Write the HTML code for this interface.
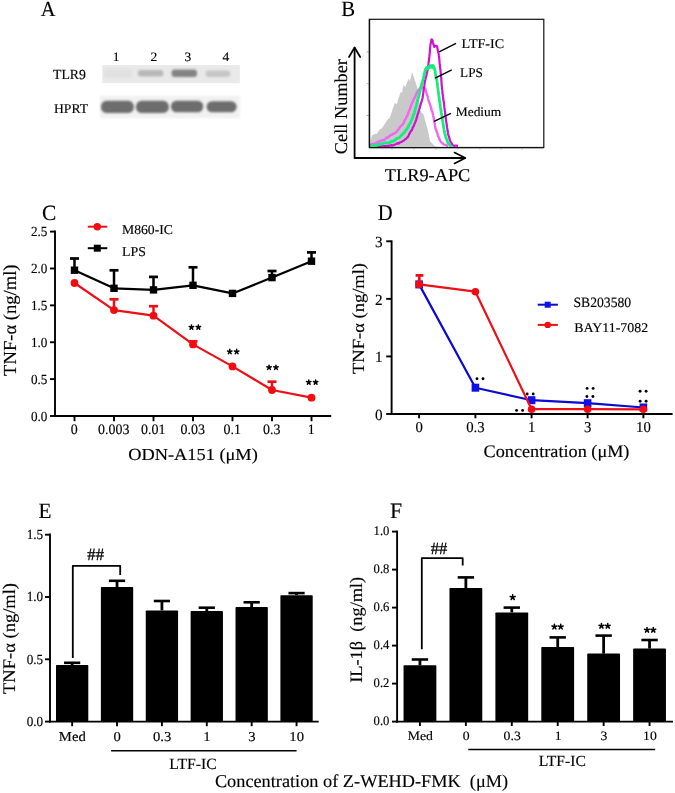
<!DOCTYPE html>
<html><head><meta charset="utf-8"><style>
html,body{margin:0;padding:0;background:#fff;}
svg{display:block;filter:blur(0.35px);}
</style></head><body>
<svg width="675" height="793" viewBox="0 0 675 793" font-family="Liberation Serif" fill="#000" text-rendering="geometricPrecision">
<rect width="675" height="793" fill="#fff"/>
<text transform="translate(40.76,16.35) scale(0.956,1)" font-size="21.38" text-anchor="start" stroke="#000" stroke-width="0.14">A</text>
<text transform="translate(116.16,61.11) scale(1.054,1)" font-size="12.84" text-anchor="middle" stroke="#000" stroke-width="0.14">1</text>
<text transform="translate(153.76,61.11) scale(1.054,1)" font-size="12.84" text-anchor="middle" stroke="#000" stroke-width="0.14">2</text>
<text transform="translate(187.96,61.11) scale(1.054,1)" font-size="12.84" text-anchor="middle" stroke="#000" stroke-width="0.14">3</text>
<text transform="translate(225.76,61.11) scale(1.054,1)" font-size="12.84" text-anchor="middle" stroke="#000" stroke-width="0.14">4</text>
<text transform="translate(53.01,78.95) scale(0.994,1)" font-size="13.85" text-anchor="start" stroke="#000" stroke-width="0.14">TLR9</text>
<text transform="translate(54.01,112.85) scale(1.017,1)" font-size="13.40" text-anchor="start" stroke="#000" stroke-width="0.14">HPRT</text>
<defs><filter id="bl1" x="-20%" y="-50%" width="140%" height="200%"><feGaussianBlur stdDeviation="1.2"/></filter><filter id="bl2" x="-20%" y="-50%" width="140%" height="200%"><feGaussianBlur stdDeviation="0.8"/></filter><filter id="bl3"><feGaussianBlur stdDeviation="0.6"/></filter></defs>
<rect x="102.30" y="65.10" width="137.50" height="18.10" fill="#e9e9e9" />
<g filter="url(#bl1)">
<rect x="104" y="69" width="28" height="9" rx="3" fill="#e1e1e1"/>
<rect x="137.8" y="70" width="25.6" height="6.6" rx="3" fill="#b8b8b8"/>
<rect x="171.6" y="69.5" width="25.4" height="7.4" rx="3" fill="#838383"/>
<rect x="205.6" y="70.4" width="24.6" height="6.6" rx="3" fill="#c6c6c6"/>
</g>
<rect x="100" y="96" width="140" height="22" fill="#f1f1f1" filter="url(#bl1)"/>
<g filter="url(#bl2)">
<rect x="101" y="100.8" width="32.8" height="12.1" rx="5.5" fill="#6d6d6d"/>
<rect x="136" y="100.8" width="32.8" height="12.1" rx="5.5" fill="#6d6d6d"/>
<rect x="171" y="100.7" width="32.2" height="11.6" rx="5.5" fill="#6d6d6d"/>
<rect x="206.6" y="101.2" width="30.0" height="11.1" rx="5.5" fill="#6d6d6d"/>
</g>
<text transform="translate(341.26,16.46) scale(0.955,1)" font-size="21.77" text-anchor="start" stroke="#000" stroke-width="0.14">B</text>
<rect x="369.4" y="19.3" width="174.4" height="128.2" fill="none" stroke="#111" stroke-width="1.2"/>
<line x1="366.50" y1="51.90" x2="369.40" y2="51.90" stroke="#999" stroke-width="0.8" />
<line x1="366.50" y1="83.70" x2="369.40" y2="83.70" stroke="#999" stroke-width="0.8" />
<line x1="366.50" y1="115.50" x2="369.40" y2="115.50" stroke="#999" stroke-width="0.8" />
<line x1="392.00" y1="147.50" x2="392.00" y2="150.00" stroke="#bbb" stroke-width="0.7" />
<line x1="414.00" y1="147.50" x2="414.00" y2="150.00" stroke="#bbb" stroke-width="0.7" />
<line x1="436.00" y1="147.50" x2="436.00" y2="150.00" stroke="#bbb" stroke-width="0.7" />
<line x1="458.00" y1="147.50" x2="458.00" y2="150.00" stroke="#bbb" stroke-width="0.7" />
<line x1="480.00" y1="147.50" x2="480.00" y2="150.00" stroke="#bbb" stroke-width="0.7" />
<line x1="501.00" y1="147.50" x2="501.00" y2="150.00" stroke="#bbb" stroke-width="0.7" />
<line x1="522.00" y1="147.50" x2="522.00" y2="150.00" stroke="#bbb" stroke-width="0.7" />
<path d="M370.0,147.4 L370.1,146.3 L370.2,145.0 L370.3,143.7 L370.3,143.4 L370.4,141.5 L370.5,141.1 L370.6,140.0 L371.0,138.8 L371.4,137.3 L371.7,137.0 L372.1,135.3 L372.5,134.9 L373.5,134.7 L374.5,134.0 L375.5,133.9 L376.5,134.3 L377.2,133.2 L377.9,132.8 L378.6,130.8 L379.3,130.3 L380.1,129.1 L381.0,128.8 L381.9,128.4 L382.7,126.9 L383.3,126.2 L383.9,125.1 L384.4,125.0 L385.0,122.9 L385.6,123.2 L386.2,121.8 L386.9,120.7 L387.6,119.7 L388.2,118.9 L388.9,118.4 L389.6,117.9 L390.0,117.4 L390.3,115.6 L390.7,115.2 L391.1,114.3 L391.4,113.0 L391.8,112.2 L392.1,111.3 L392.4,109.6 L392.8,108.6 L393.1,107.7 L393.4,107.4 L393.7,106.0 L394.1,104.9 L394.4,104.2 L394.7,103.1 L395.8,103.6 L396.9,104.2 L397.1,102.9 L397.4,102.7 L397.6,101.6 L397.9,100.0 L398.1,99.4 L398.4,98.4 L398.6,97.4 L399.0,97.0 L399.4,95.9 L399.8,94.3 L400.1,94.3 L400.5,92.2 L400.9,91.8 L402.0,92.9 L402.2,91.7 L402.4,91.1 L402.6,89.2 L402.9,88.6 L403.1,86.9 L403.3,86.8 L403.5,85.8 L403.7,84.4 L404.3,85.4 L404.8,86.8 L405.4,87.2 L405.8,85.9 L406.1,85.3 L406.5,84.1 L406.9,83.1 L407.2,81.8 L407.6,81.3 L407.9,80.4 L408.3,78.7 L409.1,79.8 L410.0,81.0 L410.2,80.2 L410.4,78.4 L410.7,78.2 L410.9,77.2 L411.1,76.6 L411.3,75.4 L411.6,73.6 L411.8,72.8 L412.0,71.9 L412.3,73.2 L412.7,73.3 L413.0,75.0 L413.3,75.6 L413.7,76.6 L414.0,78.2 L414.4,78.6 L414.7,80.6 L415.1,80.8 L415.5,82.0 L415.8,83.2 L416.2,84.4 L416.5,85.9 L416.9,85.9 L417.2,87.4 L417.6,88.5 L417.9,89.5 L418.0,91.1 L418.1,92.0 L418.2,93.2 L418.3,93.4 L418.4,94.6 L418.6,95.6 L418.7,97.4 L418.8,98.5 L418.9,98.5 L419.0,100.0 L419.1,100.5 L419.2,101.6 L419.3,102.6 L419.4,104.0 L419.5,105.1 L419.6,105.7 L419.7,106.3 L419.8,107.9 L419.9,108.8 L420.0,110.0 L420.7,111.0 L421.4,112.4 L422.1,112.9 L422.8,113.5 L423.5,114.4 L423.8,115.5 L424.0,116.6 L424.3,116.7 L424.6,118.8 L424.9,119.6 L425.1,120.7 L425.4,121.6 L425.7,122.0 L425.9,123.0 L426.2,124.1 L426.4,124.5 L426.7,126.3 L426.9,126.5 L427.2,127.4 L427.4,128.6 L427.7,129.6 L427.9,130.8 L428.2,131.4 L428.4,133.0 L428.6,133.4 L428.8,134.7 L429.0,135.7 L429.2,137.2 L429.5,137.8 L429.7,140.1 L429.9,140.9 L430.1,141.8 L430.9,142.0 L431.7,142.9 L432.5,143.7 L433.3,144.4 L434.1,145.3 L435.1,146.0 L436.2,146.7 L437.2,147.4 Z" fill="#c9c9c9"/>
<polyline points="370.0,146.0 371.4,144.5 372.5,143.6 373.7,144.1 374.8,143.9 375.9,142.9 377.0,142.5 378.2,141.6 379.3,141.7 380.4,140.8 381.6,140.6 382.7,140.0 383.9,140.3 385.0,139.4 385.9,138.3 386.8,137.5 387.8,137.9 388.7,136.7 389.6,136.0 390.7,135.0 391.9,134.9 393.0,133.7 394.1,133.7 395.0,132.8 395.9,132.5 396.8,131.4 397.7,130.3 398.6,129.2 399.4,128.0 400.1,127.1 400.9,126.0 401.7,125.7 402.4,124.5 403.2,123.5 403.8,122.7 404.3,121.0 404.9,119.8 405.5,119.3 406.0,118.4 406.6,116.7 407.1,116.0 407.6,114.8 408.1,113.7 408.5,112.5 409.0,110.7 409.5,109.9 410.0,108.8 410.4,107.5 410.9,106.0 411.3,104.8 411.7,104.0 412.1,102.8 412.5,102.2 413.0,101.4 413.4,99.7 414.0,98.5 414.5,98.0 415.1,96.9 415.7,95.7 416.2,93.9 416.8,92.9 417.5,91.4 418.3,90.3 419.0,89.5 420.1,88.2 421.3,87.6 423.0,87.5 424.1,87.8 425.3,88.8 425.6,90.1 425.9,91.5 426.3,92.5 426.6,93.2 426.9,94.5 427.2,95.8 427.6,96.1 427.9,97.7 428.2,99.0 428.6,100.4 428.9,101.3 429.2,102.4 429.6,103.2 429.9,103.9 430.3,105.7 430.6,106.5 431.0,107.5 431.3,109.2 431.7,110.6 432.1,111.0 432.4,112.2 432.8,113.5 433.0,115.2 433.2,116.1 433.5,116.7 433.7,117.8 433.9,119.0 434.1,120.6 434.3,122.3 434.5,123.3 434.8,123.7 435.0,125.7 435.2,127.1 435.4,127.7 435.8,129.1 436.2,129.9 436.5,131.3 436.9,131.9 437.3,133.0 437.7,134.7 438.1,136.3 438.6,136.9 439.0,137.8 439.4,139.4 439.9,139.8 440.3,140.9 441.1,142.2 441.9,143.0 442.6,143.2 443.4,144.4 444.6,144.6 445.8,145.1 447.0,145.8 448.2,146.2" fill="none" stroke="#f068f0" stroke-width="2.4" stroke-linejoin="round" />
<polyline points="370.0,146.8 371.2,146.8 372.3,146.7 373.5,146.7 374.6,146.6 375.8,146.6 376.9,146.5 378.1,146.5 379.2,146.4 380.4,146.4 381.5,146.3 382.7,146.3 383.8,146.2 385.0,146.2 386.1,146.1 387.3,145.9 388.4,145.8 389.6,145.6 390.7,145.5 391.8,145.1 393.0,145.3 394.1,145.1 395.2,144.3 396.4,144.0 397.5,143.2 398.6,143.6 399.7,142.5 400.9,142.1 402.0,141.7 402.9,141.0 403.9,140.6 404.9,139.3 405.8,139.1 406.8,137.9 407.7,137.1 408.3,136.1 408.8,135.2 409.4,133.6 409.9,133.1 410.5,131.8 411.1,130.6 411.6,130.5 412.2,129.2 412.7,127.7 413.2,126.9 413.7,126.1 414.2,124.7 414.7,123.4 415.2,122.4 415.7,121.3 416.0,120.2 416.4,119.3 416.7,117.4 417.1,116.8 417.4,115.3 417.7,114.2 418.1,113.6 418.4,112.2 418.8,111.1 419.1,109.9 419.4,109.0 419.7,108.1 420.1,106.4 420.4,105.4 420.7,104.2 421.0,103.0 421.4,101.9 421.8,101.0 422.1,99.6 422.5,98.6 422.7,97.4 422.8,96.1 423.0,95.4 423.1,93.9 423.3,92.9 423.4,91.7 423.6,90.0 423.8,88.6 424.0,87.8 424.2,87.2 424.4,85.9 424.5,84.0 424.7,82.9 424.9,82.2 425.1,80.6 425.3,80.0 425.6,78.6 425.8,77.3 426.1,76.9 426.3,75.9 426.6,74.9 426.8,73.0 427.1,72.5 427.3,71.3 427.6,70.0 427.8,68.5 427.9,68.2 428.1,67.2 428.2,65.3 428.4,65.0 428.5,63.2 428.6,62.2 428.8,61.7 428.9,60.4 429.1,58.5 429.2,57.7 429.4,56.7 429.5,55.6 429.6,54.3 429.7,53.0 429.8,52.0 429.9,51.3 430.0,49.4 430.1,48.8 430.2,47.5 430.3,45.9 430.4,45.2 430.5,44.2 430.8,43.1 431.1,41.8 431.3,40.0 431.6,39.3 432.6,40.5 432.9,42.3 433.2,43.4 433.6,44.9 433.9,45.2 434.2,46.9 435.5,45.8 436.9,46.0 437.2,47.0 437.4,48.0 437.7,50.1 438.0,51.0 438.2,51.9 438.4,52.9 438.7,54.3 438.9,56.0 439.1,56.7 439.2,58.2 439.3,58.8 439.4,59.8 439.5,61.8 439.6,62.6 439.7,63.9 439.8,64.4 439.9,66.0 440.0,66.7 440.2,68.6 440.3,69.5 440.5,70.3 440.6,72.5 440.8,73.3 440.9,74.4 441.0,75.9 441.1,76.3 441.2,78.3 441.3,78.6 441.4,80.6 441.4,81.3 441.5,82.3 441.6,83.7 441.7,85.3 441.8,86.0 441.9,86.9 442.0,88.0 442.1,89.6 442.3,90.5 442.4,91.6 442.5,93.2 442.6,93.9 442.8,94.9 442.9,96.2 443.1,97.4 443.2,98.5 443.4,100.1 443.6,100.7 443.7,102.1 443.9,102.8 444.0,104.1 444.2,104.9 444.3,106.5 444.4,107.4 444.6,108.3 444.7,110.3 444.9,111.3 445.0,112.0 445.2,113.5 445.3,115.2 445.5,115.5 445.6,117.1 445.8,118.6 445.9,119.2 446.1,120.4 446.2,121.9 446.4,122.5 446.6,123.7 446.7,125.0 446.9,125.9 447.1,127.5 447.2,127.9 447.4,129.6 447.5,130.5 447.7,131.5 447.9,132.4 448.0,133.4 448.2,134.7 448.6,135.4 448.9,136.7 449.3,137.8 449.7,139.7 450.0,140.3 450.4,141.8 451.2,142.6 451.9,143.7 452.7,145.3 454.0,145.8 455.4,145.6 456.7,145.7 458.0,145.8" fill="none" stroke="#d20fd2" stroke-width="2.2" stroke-linejoin="round" />
<polyline points="370.0,146.5 371.2,146.2 372.3,146.0 373.5,145.8 374.6,145.5 375.8,145.7 377.0,145.2 378.1,144.5 379.3,144.5 380.4,144.0 381.6,143.8 382.7,143.7 383.9,143.2 385.0,143.2 386.2,142.8 387.3,142.8 388.4,142.9 389.6,142.6 390.7,141.8 391.8,141.1 393.0,141.5 394.1,140.6 395.1,139.8 396.0,139.3 397.0,138.3 397.9,138.1 398.9,137.7 399.8,137.1 400.7,136.2 401.6,135.0 402.5,134.4 403.4,133.0 404.3,132.6 405.0,131.4 405.7,130.3 406.3,129.8 407.0,128.5 407.7,128.1 408.3,126.4 408.8,125.6 409.4,124.4 410.0,123.7 410.5,122.5 411.1,121.3 411.5,120.4 412.0,119.2 412.4,118.1 412.8,117.2 413.2,115.5 413.6,114.3 414.1,113.9 414.5,112.2 414.8,110.7 415.1,110.3 415.4,109.1 415.6,107.4 415.9,107.1 416.2,106.1 416.5,104.7 416.8,103.8 417.1,102.8 417.4,100.9 417.6,100.3 417.9,99.2 418.2,98.5 418.5,97.0 418.8,96.2 419.1,95.2 419.3,93.8 419.6,93.0 419.9,91.7 420.2,90.6 420.5,89.0 420.7,87.7 421.0,86.7 421.3,86.0 421.6,84.7 421.9,83.3 422.2,83.0 422.5,81.6 422.7,80.5 423.0,79.4 423.3,78.3 423.6,77.0 423.9,75.7 424.2,74.0 424.5,73.6 424.7,72.3 425.0,70.8 425.3,69.5 426.1,68.5 427.0,67.5 428.4,67.3 429.8,66.8 431.2,65.7 432.7,65.5 433.8,66.5 434.2,68.0 434.5,68.7 434.9,70.2 435.1,70.9 435.3,72.2 435.4,73.9 435.6,74.4 435.8,76.1 436.0,77.0 436.4,79.0 436.8,80.0 436.9,81.1 437.1,82.1 437.2,83.3 437.4,84.6 437.5,85.8 437.6,86.7 437.8,87.9 437.9,88.3 438.1,89.5 438.2,90.7 438.4,92.4 438.5,93.2 438.6,94.1 438.8,95.5 438.9,96.0 439.1,97.2 439.2,98.5 439.4,100.0 439.6,101.2 439.7,102.3 439.9,102.9 440.0,104.3 440.2,105.4 440.3,106.5 440.5,107.6 440.7,108.4 440.9,110.5 441.1,110.9 441.3,112.9 441.5,114.0 441.7,114.2 441.9,115.9 442.1,117.1 442.3,118.6 442.4,119.8 442.6,120.3 442.8,121.2 442.9,122.3 443.1,124.2 443.2,124.5 443.4,125.9 443.6,127.2 443.8,127.9 444.0,129.5 444.3,131.1 444.5,131.4 444.7,133.0 445.1,134.6 445.4,135.4 445.8,137.1 446.1,138.1 446.5,139.1 446.9,139.9 447.4,141.7 447.8,142.4 448.2,143.5 448.9,143.9 449.7,144.8 450.4,146.2 452.0,146.8" fill="none" stroke="#18ec7c" stroke-width="2.8" stroke-linejoin="round" />
<path d="M424.3,71 L425.6,66.5 L428.5,65.2 L432.6,64.0 L434.3,65.8 L434.2,69.5 L431,68.6 L427.5,70.2 Z" fill="#18ec7c"/>
<line x1="369.50" y1="19.30" x2="369.50" y2="147.60" stroke="#111" stroke-width="1.4" />
<line x1="369.40" y1="147.60" x2="543.80" y2="147.60" stroke="#111" stroke-width="1.4" />
<line x1="439.10" y1="51.80" x2="456.00" y2="43.30" stroke="#000" stroke-width="1.3" />
<line x1="435.10" y1="78.20" x2="451.80" y2="69.90" stroke="#000" stroke-width="1.3" />
<line x1="434.10" y1="121.40" x2="450.90" y2="113.40" stroke="#000" stroke-width="1.3" />
<text transform="translate(461.55,47.56) scale(1.059,1)" font-size="13.33" text-anchor="start" stroke="#000" stroke-width="0.14">LTF-IC</text>
<text transform="translate(460.08,77.30) scale(0.987,1)" font-size="13.40" text-anchor="start" stroke="#000" stroke-width="0.14">LPS</text>
<text transform="translate(455.71,116.39) scale(1.035,1)" font-size="13.00" text-anchor="start" stroke="#000" stroke-width="0.14">Medium</text>
<polyline points="354.6,48.0 354.6,158.0 465.0,158.0" fill="none" stroke="#000" stroke-width="1.8" stroke-linejoin="round" stroke-linecap="round"/>
<polyline points="349.0,57.0 354.6,47.5 360.2,57.0" fill="none" stroke="#000" stroke-width="1.7" stroke-linejoin="round" stroke-linecap="round"/>
<polyline points="454.5,152.6 465.3,158.0 454.5,163.4" fill="none" stroke="#000" stroke-width="1.7" stroke-linejoin="round" stroke-linecap="round"/>
<text transform="translate(346.85,106.63) rotate(-90) scale(1.010,1)" font-size="18.14" text-anchor="middle" stroke="#000" stroke-width="0.14">Cell Number</text>
<text transform="translate(384.84,180.75) scale(1.022,1)" font-size="17.93" text-anchor="start" stroke="#000" stroke-width="0.14">TLR9-APC</text>
<text transform="translate(41.97,219.69) scale(0.985,1)" font-size="21.78" text-anchor="start" stroke="#000" stroke-width="0.14">C</text>
<line x1="55.00" y1="230.50" x2="55.00" y2="416.90" stroke="#000" stroke-width="1.9" />
<line x1="54.00" y1="416.00" x2="331.20" y2="416.00" stroke="#000" stroke-width="1.9" />
<line x1="50.00" y1="416.00" x2="55.00" y2="416.00" stroke="#000" stroke-width="1.9" />
<text transform="translate(47.39,420.80) scale(0.943,1)" font-size="13.95" text-anchor="end" stroke="#000" stroke-width="0.14">0.0</text>
<line x1="50.00" y1="379.12" x2="55.00" y2="379.12" stroke="#000" stroke-width="1.9" />
<text transform="translate(47.39,383.92) scale(0.943,1)" font-size="13.95" text-anchor="end" stroke="#000" stroke-width="0.14">0.5</text>
<line x1="50.00" y1="342.24" x2="55.00" y2="342.24" stroke="#000" stroke-width="1.9" />
<text transform="translate(47.39,347.04) scale(0.943,1)" font-size="13.95" text-anchor="end" stroke="#000" stroke-width="0.14">1.0</text>
<line x1="50.00" y1="305.36" x2="55.00" y2="305.36" stroke="#000" stroke-width="1.9" />
<text transform="translate(47.39,310.16) scale(0.943,1)" font-size="13.95" text-anchor="end" stroke="#000" stroke-width="0.14">1.5</text>
<line x1="50.00" y1="268.48" x2="55.00" y2="268.48" stroke="#000" stroke-width="1.9" />
<text transform="translate(47.39,273.28) scale(0.943,1)" font-size="13.95" text-anchor="end" stroke="#000" stroke-width="0.14">2.0</text>
<line x1="50.00" y1="231.60" x2="55.00" y2="231.60" stroke="#000" stroke-width="1.9" />
<text transform="translate(47.39,236.40) scale(0.943,1)" font-size="13.95" text-anchor="end" stroke="#000" stroke-width="0.14">2.5</text>
<line x1="74.50" y1="416.00" x2="74.50" y2="421.20" stroke="#000" stroke-width="1.9" />
<text transform="translate(74.18,434.35) scale(0.964,1)" font-size="14.45" text-anchor="middle" stroke="#000" stroke-width="0.14">0</text>
<line x1="114.00" y1="416.00" x2="114.00" y2="421.20" stroke="#000" stroke-width="1.9" />
<text transform="translate(113.68,434.35) scale(0.964,1)" font-size="14.45" text-anchor="middle" stroke="#000" stroke-width="0.14">0.003</text>
<line x1="153.50" y1="416.00" x2="153.50" y2="421.20" stroke="#000" stroke-width="1.9" />
<text transform="translate(153.18,434.35) scale(0.964,1)" font-size="14.45" text-anchor="middle" stroke="#000" stroke-width="0.14">0.01</text>
<line x1="193.00" y1="416.00" x2="193.00" y2="421.20" stroke="#000" stroke-width="1.9" />
<text transform="translate(192.68,434.35) scale(0.964,1)" font-size="14.45" text-anchor="middle" stroke="#000" stroke-width="0.14">0.03</text>
<line x1="232.50" y1="416.00" x2="232.50" y2="421.20" stroke="#000" stroke-width="1.9" />
<text transform="translate(232.18,434.35) scale(0.964,1)" font-size="14.45" text-anchor="middle" stroke="#000" stroke-width="0.14">0.1</text>
<line x1="272.00" y1="416.00" x2="272.00" y2="421.20" stroke="#000" stroke-width="1.9" />
<text transform="translate(271.68,434.35) scale(0.964,1)" font-size="14.45" text-anchor="middle" stroke="#000" stroke-width="0.14">0.3</text>
<line x1="311.50" y1="416.00" x2="311.50" y2="421.20" stroke="#000" stroke-width="1.9" />
<text transform="translate(311.18,434.35) scale(0.964,1)" font-size="14.45" text-anchor="middle" stroke="#000" stroke-width="0.14">1</text>
<text transform="translate(128.14,459.69) scale(1.091,1)" font-size="16.84" text-anchor="start" stroke="#000" stroke-width="0.14">ODN-A151 (μM)</text>
<text transform="translate(16.02,320.19) rotate(-90) scale(1.012,1)" font-size="18.38" text-anchor="middle" stroke="#000" stroke-width="0.14">TNF-α (ng/ml)</text>
<polyline points="74.5,270.2 114.0,288.3 153.5,289.9 193.0,285.3 232.5,293.4 272.0,277.6 311.5,261.2" fill="none" stroke="#000" stroke-width="2.2" stroke-linejoin="round" />
<line x1="74.50" y1="270.20" x2="74.50" y2="258.50" stroke="#000" stroke-width="2.5" />
<line x1="70.00" y1="258.50" x2="79.00" y2="258.50" stroke="#000" stroke-width="2.7" />
<rect x="70.80" y="266.50" width="7.40" height="7.40" fill="#000" />
<line x1="114.00" y1="288.30" x2="114.00" y2="270.30" stroke="#000" stroke-width="2.5" />
<line x1="109.50" y1="270.30" x2="118.50" y2="270.30" stroke="#000" stroke-width="2.7" />
<rect x="110.30" y="284.60" width="7.40" height="7.40" fill="#000" />
<line x1="153.50" y1="289.90" x2="153.50" y2="276.90" stroke="#000" stroke-width="2.5" />
<line x1="149.00" y1="276.90" x2="158.00" y2="276.90" stroke="#000" stroke-width="2.7" />
<rect x="149.80" y="286.20" width="7.40" height="7.40" fill="#000" />
<line x1="193.00" y1="285.30" x2="193.00" y2="267.30" stroke="#000" stroke-width="2.5" />
<line x1="188.50" y1="267.30" x2="197.50" y2="267.30" stroke="#000" stroke-width="2.7" />
<rect x="189.30" y="281.60" width="7.40" height="7.40" fill="#000" />
<rect x="228.80" y="289.70" width="7.40" height="7.40" fill="#000" />
<line x1="272.00" y1="277.60" x2="272.00" y2="271.00" stroke="#000" stroke-width="2.5" />
<line x1="267.50" y1="271.00" x2="276.50" y2="271.00" stroke="#000" stroke-width="2.7" />
<rect x="268.30" y="273.90" width="7.40" height="7.40" fill="#000" />
<line x1="311.50" y1="261.20" x2="311.50" y2="252.40" stroke="#000" stroke-width="2.5" />
<line x1="307.00" y1="252.40" x2="316.00" y2="252.40" stroke="#000" stroke-width="2.7" />
<rect x="307.80" y="257.50" width="7.40" height="7.40" fill="#000" />
<polyline points="74.5,283.0 114.0,310.1 153.5,315.7 193.0,344.4 232.5,366.4 272.0,390.0 311.5,397.7" fill="none" stroke="#ec1016" stroke-width="2.2" stroke-linejoin="round" />
<circle cx="74.50" cy="283.00" r="3.9" fill="#f20c12"/>
<line x1="114.00" y1="310.10" x2="114.00" y2="299.30" stroke="#ec1016" stroke-width="2.5" />
<line x1="109.50" y1="299.30" x2="118.50" y2="299.30" stroke="#ec1016" stroke-width="2.7" />
<circle cx="114.00" cy="310.10" r="3.9" fill="#f20c12"/>
<line x1="153.50" y1="315.70" x2="153.50" y2="306.20" stroke="#ec1016" stroke-width="2.5" />
<line x1="149.00" y1="306.20" x2="158.00" y2="306.20" stroke="#ec1016" stroke-width="2.7" />
<circle cx="153.50" cy="315.70" r="3.9" fill="#f20c12"/>
<line x1="193.00" y1="344.40" x2="193.00" y2="341.30" stroke="#ec1016" stroke-width="2.5" />
<line x1="188.50" y1="341.30" x2="197.50" y2="341.30" stroke="#ec1016" stroke-width="2.7" />
<circle cx="193.00" cy="344.40" r="3.9" fill="#f20c12"/>
<circle cx="232.50" cy="366.40" r="3.9" fill="#f20c12"/>
<line x1="272.00" y1="390.00" x2="272.00" y2="381.70" stroke="#ec1016" stroke-width="2.5" />
<line x1="267.50" y1="381.70" x2="276.50" y2="381.70" stroke="#ec1016" stroke-width="2.7" />
<circle cx="272.00" cy="390.00" r="3.9" fill="#f20c12"/>
<circle cx="311.50" cy="397.70" r="3.9" fill="#f20c12"/>
<path d="M191.45,327.30 L191.45,324.95 M191.45,327.30 L193.68,326.57 M191.45,327.30 L192.83,329.20 M191.45,327.30 L190.07,329.20 M191.45,327.30 L189.22,326.57 " stroke="#000" stroke-width="1.5" stroke-linecap="round" fill="none"/>
<path d="M198.35,327.30 L198.35,324.95 M198.35,327.30 L200.58,326.57 M198.35,327.30 L199.73,329.20 M198.35,327.30 L196.97,329.20 M198.35,327.30 L196.12,326.57 " stroke="#000" stroke-width="1.5" stroke-linecap="round" fill="none"/>
<path d="M229.75,351.70 L229.75,349.35 M229.75,351.70 L231.98,350.97 M229.75,351.70 L231.13,353.60 M229.75,351.70 L228.37,353.60 M229.75,351.70 L227.52,350.97 " stroke="#000" stroke-width="1.5" stroke-linecap="round" fill="none"/>
<path d="M236.65,351.70 L236.65,349.35 M236.65,351.70 L238.88,350.97 M236.65,351.70 L238.03,353.60 M236.65,351.70 L235.27,353.60 M236.65,351.70 L234.42,350.97 " stroke="#000" stroke-width="1.5" stroke-linecap="round" fill="none"/>
<path d="M269.05,367.50 L269.05,365.15 M269.05,367.50 L271.28,366.77 M269.05,367.50 L270.43,369.40 M269.05,367.50 L267.67,369.40 M269.05,367.50 L266.82,366.77 " stroke="#000" stroke-width="1.5" stroke-linecap="round" fill="none"/>
<path d="M275.95,367.50 L275.95,365.15 M275.95,367.50 L278.18,366.77 M275.95,367.50 L277.33,369.40 M275.95,367.50 L274.57,369.40 M275.95,367.50 L273.72,366.77 " stroke="#000" stroke-width="1.5" stroke-linecap="round" fill="none"/>
<path d="M308.75,382.30 L308.75,379.95 M308.75,382.30 L310.98,381.57 M308.75,382.30 L310.13,384.20 M308.75,382.30 L307.37,384.20 M308.75,382.30 L306.52,381.57 " stroke="#000" stroke-width="1.5" stroke-linecap="round" fill="none"/>
<path d="M315.65,382.30 L315.65,379.95 M315.65,382.30 L317.88,381.57 M315.65,382.30 L317.03,384.20 M315.65,382.30 L314.27,384.20 M315.65,382.30 L313.42,381.57 " stroke="#000" stroke-width="1.5" stroke-linecap="round" fill="none"/>
<line x1="87.80" y1="226.70" x2="107.30" y2="226.70" stroke="#ec1016" stroke-width="2.0" />
<circle cx="97.3" cy="226.7" r="3.7" fill="#f20c12"/>
<text transform="translate(121.99,234.15) scale(1.014,1)" font-size="13.50" text-anchor="start" stroke="#000" stroke-width="0.14">M860-IC</text>
<line x1="87.80" y1="248.20" x2="107.30" y2="248.20" stroke="#000" stroke-width="2.0" />
<rect x="93.80" y="244.70" width="7.00" height="7.00" fill="#000" />
<text transform="translate(121.99,255.95) scale(1.025,1)" font-size="13.50" text-anchor="start" stroke="#000" stroke-width="0.14">LPS</text>
<text transform="translate(377.68,219.85) scale(0.918,1)" font-size="22.52" text-anchor="start" stroke="#000" stroke-width="0.14">D</text>
<line x1="391.60" y1="240.40" x2="391.60" y2="414.90" stroke="#000" stroke-width="1.9" />
<line x1="390.70" y1="414.00" x2="672.60" y2="414.00" stroke="#000" stroke-width="1.9" />
<line x1="386.20" y1="414.00" x2="391.60" y2="414.00" stroke="#000" stroke-width="1.9" />
<text transform="translate(382.53,419.79) scale(0.981,1)" font-size="15.50" text-anchor="end" stroke="#000" stroke-width="0.14">0</text>
<line x1="386.20" y1="356.43" x2="391.60" y2="356.43" stroke="#000" stroke-width="1.9" />
<text transform="translate(382.53,362.22) scale(0.981,1)" font-size="15.50" text-anchor="end" stroke="#000" stroke-width="0.14">1</text>
<line x1="386.20" y1="298.86" x2="391.60" y2="298.86" stroke="#000" stroke-width="1.9" />
<text transform="translate(382.53,304.65) scale(0.981,1)" font-size="15.50" text-anchor="end" stroke="#000" stroke-width="0.14">2</text>
<line x1="386.20" y1="241.29" x2="391.60" y2="241.29" stroke="#000" stroke-width="1.9" />
<text transform="translate(382.53,247.08) scale(0.981,1)" font-size="15.50" text-anchor="end" stroke="#000" stroke-width="0.14">3</text>
<line x1="419.10" y1="414.00" x2="419.10" y2="418.30" stroke="#000" stroke-width="1.9" />
<text transform="translate(419.10,431.50) scale(0.977,1)" font-size="15.10" text-anchor="middle" stroke="#000" stroke-width="0.14">0</text>
<line x1="475.40" y1="414.00" x2="475.40" y2="418.30" stroke="#000" stroke-width="1.9" />
<text transform="translate(475.40,431.50) scale(0.977,1)" font-size="15.10" text-anchor="middle" stroke="#000" stroke-width="0.14">0.3</text>
<line x1="531.60" y1="414.00" x2="531.60" y2="418.30" stroke="#000" stroke-width="1.9" />
<text transform="translate(531.60,431.50) scale(0.977,1)" font-size="15.10" text-anchor="middle" stroke="#000" stroke-width="0.14">1</text>
<line x1="587.60" y1="414.00" x2="587.60" y2="418.30" stroke="#000" stroke-width="1.9" />
<text transform="translate(587.60,431.50) scale(0.977,1)" font-size="15.10" text-anchor="middle" stroke="#000" stroke-width="0.14">3</text>
<line x1="643.40" y1="414.00" x2="643.40" y2="418.30" stroke="#000" stroke-width="1.9" />
<text transform="translate(643.40,431.50) scale(0.977,1)" font-size="15.10" text-anchor="middle" stroke="#000" stroke-width="0.14">10</text>
<text transform="translate(483.59,456.74) scale(1.038,1)" font-size="17.56" text-anchor="start" stroke="#000" stroke-width="0.14">Concentration (μM)</text>
<text transform="translate(364.33,318.47) rotate(-90) scale(1.091,1)" font-size="16.98" text-anchor="middle" stroke="#000" stroke-width="0.14">TNF-α (ng/ml)</text>
<polyline points="419.1,284.4 475.4,387.7 531.6,400.2 587.6,403.2 643.4,407.5" fill="none" stroke="#0a0ad0" stroke-width="2.2" stroke-linejoin="round" />
<rect x="415.30" y="280.40" width="7.60" height="8.00" fill="#1010e8" />
<rect x="471.60" y="383.70" width="7.60" height="8.00" fill="#1010e8" />
<rect x="527.80" y="396.20" width="7.60" height="8.00" fill="#1010e8" />
<rect x="583.80" y="399.20" width="7.60" height="8.00" fill="#1010e8" />
<rect x="639.60" y="403.50" width="7.60" height="8.00" fill="#1010e8" />
<line x1="419.30" y1="284.00" x2="419.30" y2="275.40" stroke="#ec1016" stroke-width="2.7" />
<line x1="415.60" y1="275.40" x2="423.40" y2="275.40" stroke="#ec1016" stroke-width="2.8" />
<polyline points="419.1,284.4 475.4,291.7 531.6,409.2 587.6,409.2 643.4,409.3" fill="none" stroke="#ec1016" stroke-width="2.2" stroke-linejoin="round" />
<circle cx="419.10" cy="284.40" r="3.8" fill="#f20c12"/>
<circle cx="475.40" cy="291.70" r="3.8" fill="#f20c12"/>
<circle cx="531.60" cy="409.20" r="3.8" fill="#f20c12"/>
<circle cx="587.60" cy="409.20" r="3.8" fill="#f20c12"/>
<circle cx="643.40" cy="409.30" r="3.8" fill="#f20c12"/>
<circle cx="477.00" cy="378.70" r="1.45" fill="#000"/>
<circle cx="483.00" cy="378.70" r="1.45" fill="#000"/>
<circle cx="527.20" cy="394.00" r="1.45" fill="#000"/>
<circle cx="533.20" cy="394.00" r="1.45" fill="#000"/>
<circle cx="516.60" cy="410.40" r="1.45" fill="#000"/>
<circle cx="522.60" cy="410.40" r="1.45" fill="#000"/>
<circle cx="587.10" cy="388.40" r="1.45" fill="#000"/>
<circle cx="593.10" cy="388.40" r="1.45" fill="#000"/>
<circle cx="586.90" cy="396.50" r="1.45" fill="#000"/>
<circle cx="592.90" cy="396.50" r="1.45" fill="#000"/>
<circle cx="640.10" cy="391.30" r="1.45" fill="#000"/>
<circle cx="646.10" cy="391.30" r="1.45" fill="#000"/>
<circle cx="640.10" cy="401.30" r="1.45" fill="#000"/>
<circle cx="646.10" cy="401.30" r="1.45" fill="#000"/>
<line x1="537.70" y1="304.70" x2="557.90" y2="304.70" stroke="#0a0ad0" stroke-width="2.0" />
<rect x="544.70" y="301.70" width="6.00" height="6.00" fill="#1010e8" />
<text transform="translate(573.43,306.79) scale(0.962,1)" font-size="14.23" text-anchor="start" stroke="#000" stroke-width="0.14">SB203580</text>
<line x1="537.70" y1="324.90" x2="557.90" y2="324.90" stroke="#ec1016" stroke-width="2.0" />
<circle cx="547.7" cy="324.9" r="3.2" fill="#f20c12"/>
<text transform="translate(574.23,331.50) scale(1.039,1)" font-size="13.40" text-anchor="start" stroke="#000" stroke-width="0.14">BAY11-7082</text>
<text transform="translate(38.57,517.74) scale(0.978,1)" font-size="21.77" text-anchor="start" stroke="#000" stroke-width="0.14">E</text>
<line x1="50.00" y1="533.60" x2="50.00" y2="722.50" stroke="#000" stroke-width="1.9" />
<line x1="49.00" y1="721.60" x2="318.70" y2="721.60" stroke="#000" stroke-width="1.9" />
<line x1="45.00" y1="721.60" x2="50.00" y2="721.60" stroke="#000" stroke-width="1.9" />
<text transform="translate(43.14,725.84) scale(0.949,1)" font-size="13.86" text-anchor="end" stroke="#000" stroke-width="0.14">0.0</text>
<line x1="45.00" y1="659.30" x2="50.00" y2="659.30" stroke="#000" stroke-width="1.9" />
<text transform="translate(43.14,663.54) scale(0.949,1)" font-size="13.86" text-anchor="end" stroke="#000" stroke-width="0.14">0.5</text>
<line x1="45.00" y1="597.00" x2="50.00" y2="597.00" stroke="#000" stroke-width="1.9" />
<text transform="translate(43.14,601.24) scale(0.949,1)" font-size="13.86" text-anchor="end" stroke="#000" stroke-width="0.14">1.0</text>
<line x1="45.00" y1="534.70" x2="50.00" y2="534.70" stroke="#000" stroke-width="1.9" />
<text transform="translate(43.14,538.94) scale(0.949,1)" font-size="13.86" text-anchor="end" stroke="#000" stroke-width="0.14">1.5</text>
<line x1="72.15" y1="665.00" x2="72.15" y2="662.80" stroke="#000" stroke-width="2.8" />
<line x1="64.05" y1="662.80" x2="80.25" y2="662.80" stroke="#000" stroke-width="2.6" />
<rect x="56.00" y="665.00" width="32.30" height="56.60" fill="#000" rx="0.8"/>
<line x1="117.03" y1="587.00" x2="117.03" y2="580.80" stroke="#000" stroke-width="2.8" />
<line x1="108.93" y1="580.80" x2="125.13" y2="580.80" stroke="#000" stroke-width="2.6" />
<rect x="100.88" y="587.00" width="32.30" height="134.60" fill="#000" rx="0.8"/>
<line x1="161.91" y1="610.40" x2="161.91" y2="601.00" stroke="#000" stroke-width="2.8" />
<line x1="153.81" y1="601.00" x2="170.01" y2="601.00" stroke="#000" stroke-width="2.6" />
<rect x="145.76" y="610.40" width="32.30" height="111.20" fill="#000" rx="0.8"/>
<line x1="206.79" y1="611.00" x2="206.79" y2="607.70" stroke="#000" stroke-width="2.8" />
<line x1="198.69" y1="607.70" x2="214.89" y2="607.70" stroke="#000" stroke-width="2.6" />
<rect x="190.64" y="611.00" width="32.30" height="110.60" fill="#000" rx="0.8"/>
<line x1="251.67" y1="607.00" x2="251.67" y2="602.30" stroke="#000" stroke-width="2.8" />
<line x1="243.57" y1="602.30" x2="259.77" y2="602.30" stroke="#000" stroke-width="2.6" />
<rect x="235.52" y="607.00" width="32.30" height="114.60" fill="#000" rx="0.8"/>
<line x1="296.55" y1="595.20" x2="296.55" y2="593.10" stroke="#000" stroke-width="2.8" />
<line x1="288.45" y1="593.10" x2="304.65" y2="593.10" stroke="#000" stroke-width="2.6" />
<rect x="280.40" y="595.20" width="32.30" height="126.40" fill="#000" rx="0.8"/>
<line x1="72.15" y1="721.60" x2="72.15" y2="726.20" stroke="#000" stroke-width="1.9" />
<text transform="translate(72.28,741.45) scale(1.080,1)" font-size="13.59" text-anchor="middle" stroke="#000" stroke-width="0.14">Med</text>
<line x1="117.03" y1="721.60" x2="117.03" y2="726.20" stroke="#000" stroke-width="1.9" />
<text transform="translate(117.16,741.45) scale(1.080,1)" font-size="13.59" text-anchor="middle" stroke="#000" stroke-width="0.14">0</text>
<line x1="161.91" y1="721.60" x2="161.91" y2="726.20" stroke="#000" stroke-width="1.9" />
<text transform="translate(162.04,741.45) scale(1.080,1)" font-size="13.59" text-anchor="middle" stroke="#000" stroke-width="0.14">0.3</text>
<line x1="206.79" y1="721.60" x2="206.79" y2="726.20" stroke="#000" stroke-width="1.9" />
<text transform="translate(206.92,741.45) scale(1.080,1)" font-size="13.59" text-anchor="middle" stroke="#000" stroke-width="0.14">1</text>
<line x1="251.67" y1="721.60" x2="251.67" y2="726.20" stroke="#000" stroke-width="1.9" />
<text transform="translate(251.80,741.45) scale(1.080,1)" font-size="13.59" text-anchor="middle" stroke="#000" stroke-width="0.14">3</text>
<line x1="296.55" y1="721.60" x2="296.55" y2="726.20" stroke="#000" stroke-width="1.9" />
<text transform="translate(296.68,741.45) scale(1.080,1)" font-size="13.59" text-anchor="middle" stroke="#000" stroke-width="0.14">10</text>
<polyline points="72.8,658.0 72.8,565.9 120.2,565.9 120.2,575.0" fill="none" stroke="#000" stroke-width="1.8" stroke-linejoin="round" />
<text transform="translate(95.67,559.59) scale(0.965,1)" font-size="17.30" text-anchor="middle" stroke="#000" stroke-width="0.3">##</text>
<line x1="111.10" y1="750.80" x2="296.60" y2="750.80" stroke="#000" stroke-width="1.5" />
<text transform="translate(193.03,768.66) scale(1.008,1)" font-size="15.67" text-anchor="middle" stroke="#000" stroke-width="0.14">LTF-IC</text>
<text transform="translate(14.91,638.47) rotate(-90) scale(1.044,1)" font-size="17.73" text-anchor="middle" stroke="#000" stroke-width="0.14">TNF-α (ng/ml)</text>
<text transform="translate(390.10,517.63) scale(0.991,1)" font-size="22.01" text-anchor="start" stroke="#000" stroke-width="0.14">F</text>
<line x1="397.10" y1="530.60" x2="397.10" y2="722.50" stroke="#000" stroke-width="1.9" />
<line x1="396.10" y1="721.60" x2="673.00" y2="721.60" stroke="#000" stroke-width="1.9" />
<line x1="392.00" y1="721.60" x2="397.10" y2="721.60" stroke="#000" stroke-width="1.9" />
<text transform="translate(389.45,725.24) scale(0.963,1)" font-size="13.17" text-anchor="end" stroke="#000" stroke-width="0.14">0.0</text>
<line x1="392.00" y1="683.60" x2="397.10" y2="683.60" stroke="#000" stroke-width="1.9" />
<text transform="translate(389.45,687.24) scale(0.963,1)" font-size="13.17" text-anchor="end" stroke="#000" stroke-width="0.14">0.2</text>
<line x1="392.00" y1="645.60" x2="397.10" y2="645.60" stroke="#000" stroke-width="1.9" />
<text transform="translate(389.45,649.24) scale(0.963,1)" font-size="13.17" text-anchor="end" stroke="#000" stroke-width="0.14">0.4</text>
<line x1="392.00" y1="607.60" x2="397.10" y2="607.60" stroke="#000" stroke-width="1.9" />
<text transform="translate(389.45,611.24) scale(0.963,1)" font-size="13.17" text-anchor="end" stroke="#000" stroke-width="0.14">0.6</text>
<line x1="392.00" y1="569.60" x2="397.10" y2="569.60" stroke="#000" stroke-width="1.9" />
<text transform="translate(389.45,573.24) scale(0.963,1)" font-size="13.17" text-anchor="end" stroke="#000" stroke-width="0.14">0.8</text>
<line x1="392.00" y1="531.60" x2="397.10" y2="531.60" stroke="#000" stroke-width="1.9" />
<text transform="translate(389.45,535.24) scale(0.963,1)" font-size="13.17" text-anchor="end" stroke="#000" stroke-width="0.14">1.0</text>
<line x1="419.95" y1="665.30" x2="419.95" y2="659.50" stroke="#000" stroke-width="2.8" />
<line x1="411.75" y1="659.50" x2="428.15" y2="659.50" stroke="#000" stroke-width="2.6" />
<rect x="403.55" y="665.30" width="32.80" height="56.30" fill="#000" rx="0.8"/>
<line x1="465.87" y1="588.00" x2="465.87" y2="577.40" stroke="#000" stroke-width="2.8" />
<line x1="457.67" y1="577.40" x2="474.07" y2="577.40" stroke="#000" stroke-width="2.6" />
<rect x="449.47" y="588.00" width="32.80" height="133.60" fill="#000" rx="0.8"/>
<line x1="511.79" y1="612.40" x2="511.79" y2="607.60" stroke="#000" stroke-width="2.8" />
<line x1="503.59" y1="607.60" x2="519.99" y2="607.60" stroke="#000" stroke-width="2.6" />
<rect x="495.39" y="612.40" width="32.80" height="109.20" fill="#000" rx="0.8"/>
<line x1="557.71" y1="647.00" x2="557.71" y2="637.40" stroke="#000" stroke-width="2.8" />
<line x1="549.51" y1="637.40" x2="565.91" y2="637.40" stroke="#000" stroke-width="2.6" />
<rect x="541.31" y="647.00" width="32.80" height="74.60" fill="#000" rx="0.8"/>
<line x1="603.63" y1="653.60" x2="603.63" y2="635.60" stroke="#000" stroke-width="2.8" />
<line x1="595.43" y1="635.60" x2="611.83" y2="635.60" stroke="#000" stroke-width="2.6" />
<rect x="587.23" y="653.60" width="32.80" height="68.00" fill="#000" rx="0.8"/>
<line x1="649.55" y1="648.60" x2="649.55" y2="640.00" stroke="#000" stroke-width="2.8" />
<line x1="641.35" y1="640.00" x2="657.75" y2="640.00" stroke="#000" stroke-width="2.6" />
<rect x="633.15" y="648.60" width="32.80" height="73.00" fill="#000" rx="0.8"/>
<line x1="419.95" y1="721.60" x2="419.95" y2="726.00" stroke="#000" stroke-width="1.9" />
<text transform="translate(420.32,739.70) scale(1.069,1)" font-size="12.83" text-anchor="middle" stroke="#000" stroke-width="0.14">Med</text>
<line x1="465.87" y1="721.60" x2="465.87" y2="726.00" stroke="#000" stroke-width="1.9" />
<text transform="translate(466.24,739.70) scale(1.069,1)" font-size="12.83" text-anchor="middle" stroke="#000" stroke-width="0.14">0</text>
<line x1="511.79" y1="721.60" x2="511.79" y2="726.00" stroke="#000" stroke-width="1.9" />
<text transform="translate(512.16,739.70) scale(1.069,1)" font-size="12.83" text-anchor="middle" stroke="#000" stroke-width="0.14">0.3</text>
<line x1="557.71" y1="721.60" x2="557.71" y2="726.00" stroke="#000" stroke-width="1.9" />
<text transform="translate(558.08,739.70) scale(1.069,1)" font-size="12.83" text-anchor="middle" stroke="#000" stroke-width="0.14">1</text>
<line x1="603.63" y1="721.60" x2="603.63" y2="726.00" stroke="#000" stroke-width="1.9" />
<text transform="translate(604.00,739.70) scale(1.069,1)" font-size="12.83" text-anchor="middle" stroke="#000" stroke-width="0.14">3</text>
<line x1="649.55" y1="721.60" x2="649.55" y2="726.00" stroke="#000" stroke-width="1.9" />
<text transform="translate(649.92,739.70) scale(1.069,1)" font-size="12.83" text-anchor="middle" stroke="#000" stroke-width="0.14">10</text>
<polyline points="421.8,649.3 421.8,558.2 462.7,558.2 462.7,565.5" fill="none" stroke="#000" stroke-width="1.8" stroke-linejoin="round" />
<text transform="translate(439.03,554.45) scale(0.971,1)" font-size="17.07" text-anchor="middle" stroke="#000" stroke-width="0.3">##</text>
<path d="M512.70,597.30 L512.70,594.65 M512.70,597.30 L515.22,596.48 M512.70,597.30 L514.26,599.44 M512.70,597.30 L511.14,599.44 M512.70,597.30 L510.18,596.48 " stroke="#000" stroke-width="1.55" stroke-linecap="round" fill="none"/>
<path d="M554.40,626.80 L554.40,624.25 M554.40,626.80 L556.83,626.01 M554.40,626.80 L555.90,628.86 M554.40,626.80 L552.90,628.86 M554.40,626.80 L551.97,626.01 " stroke="#000" stroke-width="1.55" stroke-linecap="round" fill="none"/>
<path d="M560.70,626.80 L560.70,624.25 M560.70,626.80 L563.13,626.01 M560.70,626.80 L562.20,628.86 M560.70,626.80 L559.20,628.86 M560.70,626.80 L558.27,626.01 " stroke="#000" stroke-width="1.55" stroke-linecap="round" fill="none"/>
<path d="M601.45,626.00 L601.45,623.45 M601.45,626.00 L603.88,625.21 M601.45,626.00 L602.95,628.06 M601.45,626.00 L599.95,628.06 M601.45,626.00 L599.02,625.21 " stroke="#000" stroke-width="1.55" stroke-linecap="round" fill="none"/>
<path d="M607.75,626.00 L607.75,623.45 M607.75,626.00 L610.18,625.21 M607.75,626.00 L609.25,628.06 M607.75,626.00 L606.25,628.06 M607.75,626.00 L605.32,625.21 " stroke="#000" stroke-width="1.55" stroke-linecap="round" fill="none"/>
<path d="M647.00,630.00 L647.00,627.45 M647.00,630.00 L649.43,629.21 M647.00,630.00 L648.50,632.06 M647.00,630.00 L645.50,632.06 M647.00,630.00 L644.57,629.21 " stroke="#000" stroke-width="1.55" stroke-linecap="round" fill="none"/>
<path d="M653.30,630.00 L653.30,627.45 M653.30,630.00 L655.73,629.21 M653.30,630.00 L654.80,632.06 M653.30,630.00 L651.80,632.06 M653.30,630.00 L650.87,629.21 " stroke="#000" stroke-width="1.55" stroke-linecap="round" fill="none"/>
<line x1="468.30" y1="749.40" x2="655.20" y2="749.40" stroke="#000" stroke-width="1.5" />
<text transform="translate(562.22,766.14) scale(1.012,1)" font-size="15.45" text-anchor="middle" stroke="#000" stroke-width="0.14">LTF-IC</text>
<text transform="translate(361.96,629.81) rotate(-90) scale(1.050,1)" font-size="17.45" text-anchor="middle" stroke="#000" stroke-width="0.14">IL-1β&#160;&#160;(ng/ml)</text>
<text transform="translate(214.89,786.80) scale(1.016,1)" font-size="18.00" text-anchor="start" stroke="#000" stroke-width="0.14">Concentration of Z-WEHD-FMK&#160;&#160;(μM)</text>
</svg>
</body></html>
